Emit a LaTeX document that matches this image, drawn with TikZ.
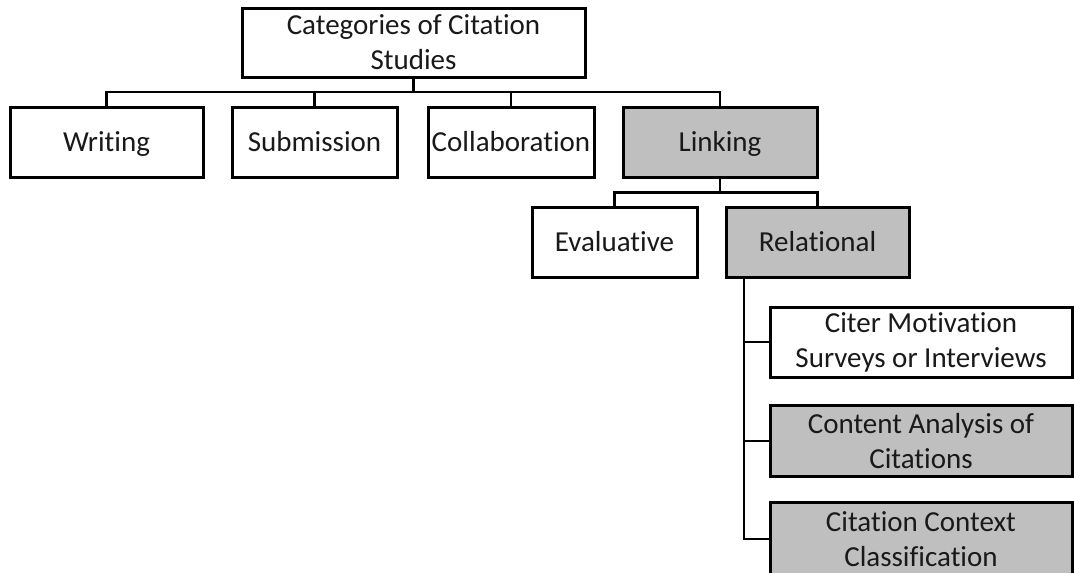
\documentclass[tikz,border=0pt]{standalone}
\usepackage{fontspec}
\setmainfont{Carlito}[RawFeature={-liga;-clig}]
\definecolor{boxgray}{RGB}{191,191,191}
\tikzset{
  catbox/.style={draw=black, line width=3pt, fill=white, inner sep=0pt, outer sep=0pt,
    align=center, font=\fontsize{29}{35}\selectfont, text=black!90},
  shaded/.style={catbox, fill=boxgray},
  oneline/.style={text height=21pt, text depth=3pt},
  wire/.style={draw=black, line width=2.5pt}
}
\begin{document}
\begin{tikzpicture}[x=1pt,y=-1pt]
\useasboundingbox (0,0) rectangle (1074,573);

% top level
\node[catbox, minimum width=343pt, minimum height=69pt] (root) at (413.5,42.5) {Categories of Citation\\Studies};

% first level
\node[catbox, oneline, minimum width=193pt, minimum height=70pt] (writing) at (106.5,142) {Writing};
\node[catbox, oneline, minimum width=165pt, minimum height=70pt] (submission) at (314.5,142) {Submission};
\node[catbox, oneline, minimum width=166pt, minimum height=70pt] (collab) at (511,142) {Collaboration};
\node[shaded, oneline, minimum width=194pt, minimum height=70pt] (linking) at (720,142) {Linking};

% second level
\node[catbox, oneline, minimum width=165pt, minimum height=70pt] (evaluative) at (614.5,242) {Evaluative};
\node[shaded, oneline, minimum width=183pt, minimum height=70pt] (relational) at (817.5,242) {Relational};

% relational methods
\node[catbox, minimum width=302pt, minimum height=70pt] (survey) at (921,342) {Citer Motivation\\Surveys or Interviews};
\node[shaded, minimum width=302pt, minimum height=71pt] (content) at (921,441) {Content Analysis of\\Citations};
\node[shaded, minimum width=302pt, minimum height=74pt] (context) at (921,539) {Citation Context\\Classification};

% connectors
\coordinate (bus1) at (413.5,92);
\coordinate (bus2) at (720,192.5);
\coordinate (trunk) at (744,277);

\draw[wire] (root.south) -- (bus1);
\draw[wire] (bus1) -| (writing.north);
\draw[wire] (bus1) -| (submission.north);
\draw[wire] (bus1) -| (collab.north);
\draw[wire] (bus1) -| (linking.north);

\draw[wire] (linking.south) -- (bus2);
\draw[wire] (bus2) -| (evaluative.north);
\draw[wire] (bus2) -| (relational.north);

\draw[wire] (trunk) |- (survey.west);
\draw[wire] (trunk) |- (content.west);
\draw[wire] (trunk) |- (context.west);
\end{tikzpicture}
\end{document}
